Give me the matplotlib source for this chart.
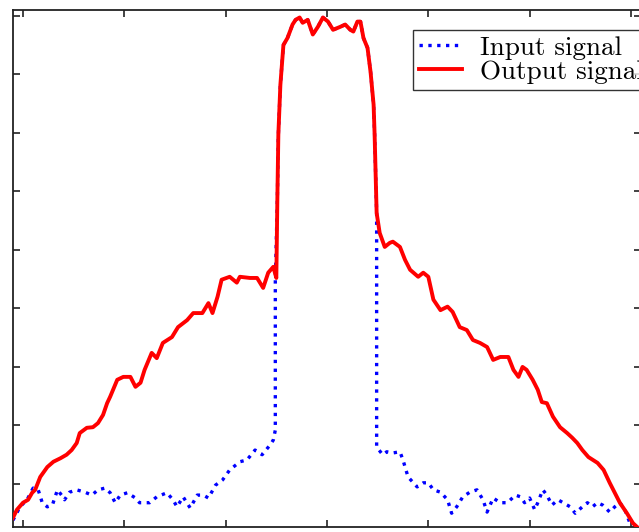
import matplotlib
matplotlib.use("Agg")
from matplotlib import pyplot as plt

# sample position / amplitude
out_x = [-10, -6, 0, 5, 9, 12, 17, 24, 30, 37, 43, 48, 53, 56, 63, 69, 74, 79, 83, 86,
         93, 99, 106, 111, 116, 120, 127, 132, 138, 147, 153, 162, 168, 177, 183, 187, 192,
         196, 204, 211, 214, 224, 231, 237, 242, 247, 250, 251, 252, 254, 257, 261, 266,
         269, 273, 276, 281, 286, 291, 296, 301, 306, 313, 318, 323, 326, 330, 333, 336,
         340, 343, 346, 347, 349, 352, 357, 362, 365, 372, 377, 382, 390, 395, 400, 405,
         412, 419, 424, 431, 438, 444, 451, 458, 464, 471, 479, 484, 489, 493, 497, 503,
         508, 512, 517, 523, 530, 537, 542, 547, 552, 558, 567, 573, 579, 584, 589, 596,
         602, 607]
out_y = [0.42, 0.56, 0.68, 0.73, 0.85, 0.90, 1.12, 1.29, 1.38, 1.44, 1.50, 1.58, 1.70, 1.87,
         1.96, 1.97, 2.04, 2.18, 2.38, 2.49, 2.78, 2.83, 2.83, 2.66, 2.73, 2.95, 3.24, 3.15,
         3.41, 3.51, 3.68, 3.80, 3.92, 3.92, 4.09, 3.92, 4.20, 4.49, 4.54, 4.44, 4.54, 4.52,
         4.52, 4.35, 4.61, 4.71, 4.52, 5.85, 6.97, 7.82, 8.50, 8.62, 8.85, 8.93, 8.97, 8.88,
         8.93, 8.68, 8.81, 8.97, 8.90, 8.76, 8.81, 8.85, 8.76, 8.73, 8.90, 8.90, 8.62, 8.45,
         8.04, 7.48, 6.97, 5.63, 5.29, 5.05, 5.12, 5.14, 5.05, 4.83, 4.66, 4.54, 4.61, 4.54,
         4.15, 3.97, 4.03, 3.94, 3.68, 3.63, 3.46, 3.41, 3.34, 3.12, 3.17, 3.17, 2.95, 2.83,
         3.00, 2.95, 2.78, 2.61, 2.40, 2.38, 2.15, 1.97, 1.87, 1.79, 1.70, 1.58, 1.46, 1.36,
         1.24, 1.02, 0.85, 0.68, 0.50, 0.33, 0.25]

# input signal: rising baseline, then the shared plateau, then the falling tail
in_left_x = [-10, -8, -3, 4, 10, 15, 19, 24, 29, 34, 38, 41, 46, 53, 61, 68, 74, 81, 86, 91,
             96, 103, 111, 115, 122, 125, 132, 142, 148, 152, 158, 165, 172, 178, 183, 190,
             197, 204, 214, 221, 229, 236, 244, 247, 249, 249]
in_left_y = [0.38, 0.44, 0.61, 0.73, 0.93, 0.90, 0.68, 0.61, 0.64, 0.90, 0.81, 0.73, 0.86,
             0.90, 0.86, 0.81, 0.90, 0.93, 0.85, 0.68, 0.81, 0.85, 0.76, 0.68, 0.68, 0.68,
             0.78, 0.85, 0.73, 0.61, 0.78, 0.59, 0.81, 0.81, 0.76, 0.98, 1.07, 1.24, 1.38,
             1.41, 1.58, 1.50, 1.67, 1.75, 1.92, 4.49]
in_right_x = [349, 355, 359, 365, 372, 375, 380, 389, 395, 400, 405, 412, 419, 423, 428, 434,
              441, 448, 454, 458, 464, 471, 478, 486, 491, 495, 500, 505, 508, 513, 517, 522,
              528, 533, 540, 545, 552, 557, 562, 567, 572, 579, 584, 589, 594, 599, 606]
in_right_y = [1.63, 1.50, 1.55, 1.53, 1.55, 1.41, 1.12, 0.95, 1.02, 1.02, 0.90, 0.86, 0.73,
              0.50, 0.61, 0.78, 0.86, 0.90, 0.73, 0.52, 0.76, 0.68, 0.68, 0.81, 0.78, 0.68,
              0.76, 0.56, 0.68, 0.90, 0.81, 0.64, 0.73, 0.68, 0.61, 0.50, 0.61, 0.68, 0.61,
              0.68, 0.64, 0.52, 0.61, 0.68, 0.56, 0.33, 0.26]

labels = ["Input signal", "Output signal"]
x_ticks = [0, 100, 200, 300, 400, 500, 600]
y_ticks = [1, 2, 3, 4, 5, 6, 7, 8, 9]


def main():
    plt.rcParams["mathtext.fontset"] = "cm"
    plt.rcParams["font.family"] = ["cmr10", "DejaVu Serif"]

    # plateau is common to both signals
    in_x = in_left_x + out_x[47:74] + in_right_x
    in_y = in_left_y + out_y[47:74] + in_right_y

    fig = plt.figure(figsize=(6.39, 5.32), dpi=100)
    ax = fig.add_axes([0.0203, 0.0094, 0.983, 0.972])

    ax.plot(in_x, in_y, color="blue", linestyle=":", linewidth=2.4, label=labels[0], zorder=2)
    ax.plot(out_x, out_y, color="red", linestyle="-", linewidth=2.8, label=labels[1], zorder=3)

    ax.set_xlim(-9.9, 610)
    ax.set_ylim(0.265, 9.10)
    ax.set_xticks(x_ticks)
    ax.set_yticks(y_ticks)
    ax.tick_params(direction="in", length=5, width=1.2, color="#222222",
                   labelbottom=False, labelleft=False, top=True, right=True)
    for s in ax.spines.values():
        s.set_linewidth(1.3)
        s.set_color("#222222")

    leg = ax.legend(loc="upper left", bbox_to_anchor=(413 / 639, 1 - 30 / 532),
                    bbox_transform=fig.transFigure, fontsize=19.5, frameon=True,
                    fancybox=False, edgecolor="black", handlelength=1.6,
                    handletextpad=0.65, borderpad=0.22, labelspacing=0.0,
                    borderaxespad=0)
    leg.get_frame().set_linewidth(1.0)

    fig.savefig("out.png", dpi=100)


if __name__ == "__main__":
    main()
